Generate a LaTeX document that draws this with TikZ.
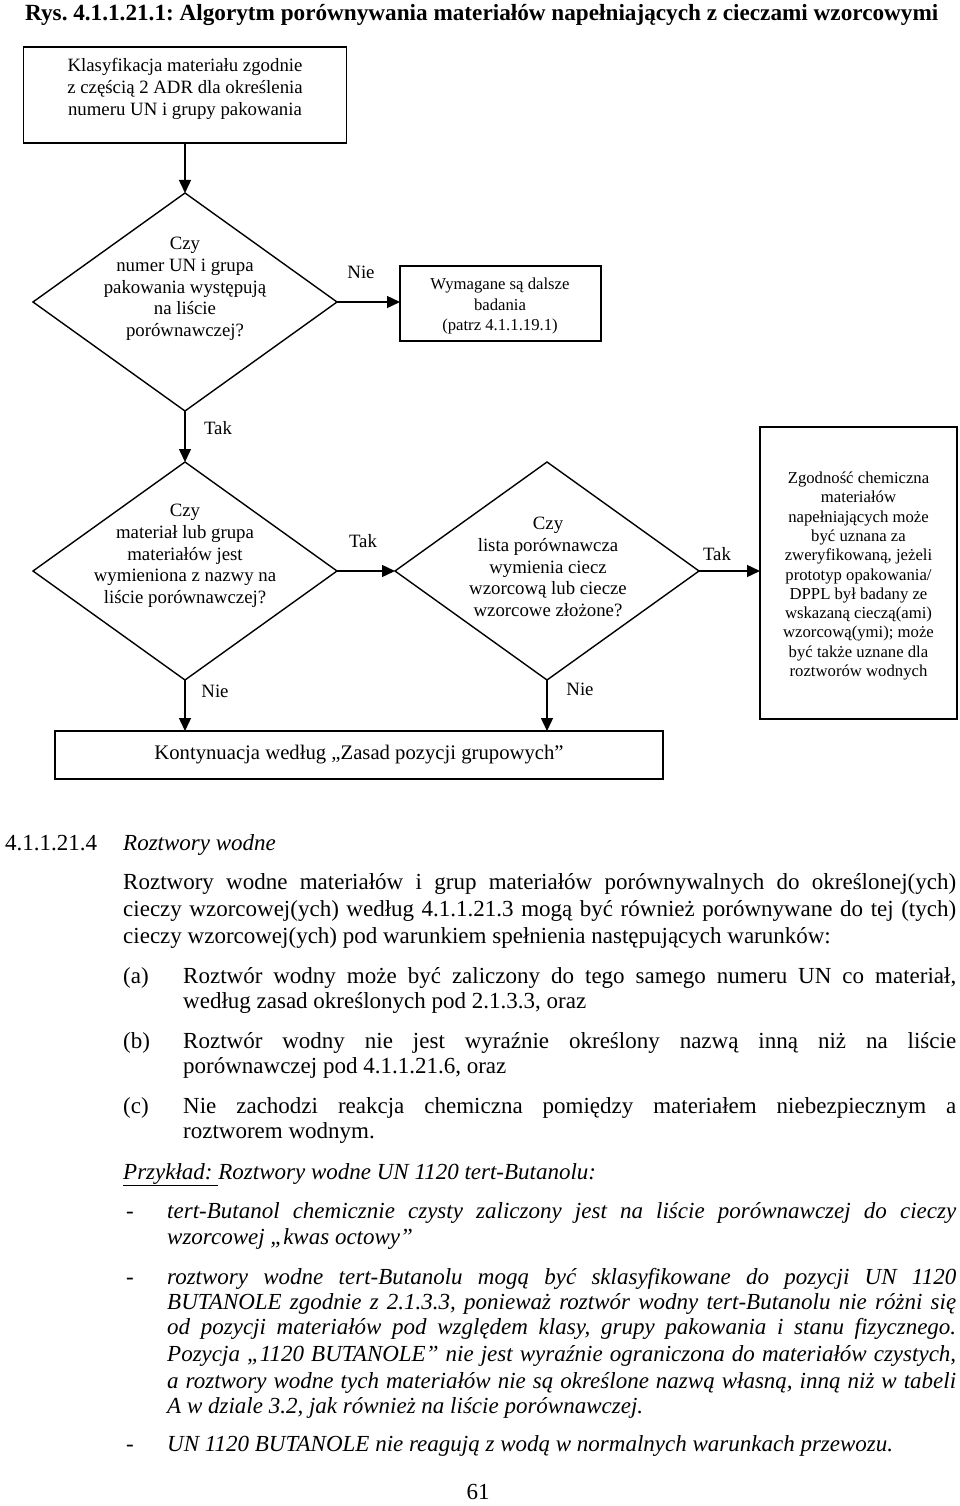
\documentclass[tikz,border=0pt]{standalone}
\usepackage{fontspec}
\setmainfont{Liberation Serif}
\usetikzlibrary{shapes.geometric,arrows.meta}
\frenchspacing
\begin{document}
\begin{tikzpicture}[x=1pt,y=-1pt,
  box/.style={draw, line width=1.4pt, inner sep=0pt, outer sep=0pt},
  dia/.style={draw, diamond, line width=1.4pt, inner sep=0pt, outer sep=0pt, minimum width=304pt, minimum height=218pt},
  ftxt/.style={align=center, font=\fontsize{18.8}{21.7}\selectfont, inner sep=0pt},
  stxt/.style={align=center, font=\fontsize{16.7}{19.3}\selectfont, inner sep=0pt},
  lbl/.style={font=\fontsize{18.8}{21.7}\selectfont, inner sep=0pt},
  arr/.style={line width=1.4pt, -{Triangle[length=13pt,width=12pt]}},
  body/.style={anchor=base west, inner sep=0pt, font=\fontsize{23}{27}\selectfont},
  ibody/.style={body, font=\fontsize{23}{27}\selectfont\itshape},
  ]
\useasboundingbox (0,0) rectangle (960,1506);
% title
\node[anchor=base west, inner sep=0pt, font=\bfseries\fontsize{23.2}{27}\selectfont] (title) at (25,21) {Rys. 4.1.1.21.1: Algorytm porównywania materiałów napełniających z cieczami wzorcowymi};
% flowchart
\node[box, minimum width=323pt, minimum height=96pt] (b1) at (185,95) {};
\node[ftxt] (b1t) at (185,89) {Klasyfikacja materiału zgodnie\\z częścią 2 ADR dla określenia\\numeru UN i grupy pakowania};
\node[dia] (d1) at (185,302) {};
\node[ftxt] (d1t) at (185,289) {Czy\\numer UN i grupa\\pakowania występują\\na liście\\porównawczej?};
\node[box, minimum width=201pt, minimum height=75pt] (wb) at (500.5,303.5) {};
\node[stxt, font=\fontsize{16.7}{20.5}\selectfont] (wbt) at (500,306) {Wymagane są dalsze\\badania\\(patrz 4.1.1.19.1)};
\node[dia] (d2) at (185,571) {};
\node[ftxt] (d2t) at (185,556) {Czy\\materiał lub grupa\\materiałów jest\\wymieniona z nazwy na\\liście porównawczej?};
\node[dia] (d3) at (547,571) {};
\node[ftxt] (d3t) at (548,567) {Czy\\lista porównawcza\\wymienia ciecz\\wzorcową lub ciecze\\wzorcowe złożone?};
\node[box, minimum width=197pt, minimum height=292pt] (rb) at (858.5,573) {};
\node[stxt] (rbt) at (858.5,576) {Zgodność chemiczna\\materiałów\\napełniających może\\być uznana za\\zweryfikowaną, jeżeli\\prototyp opakowania/\\DPPL był badany ze\\wskazaną cieczą(ami)\\wzorcową(ymi); może\\być także uznane dla\\roztworów wodnych};
\node[box, minimum width=608pt, minimum height=48pt, font=\fontsize{20.7}{24}\selectfont] (k) at (359,755) {Kontynuacja według „Zasad pozycji grupowych”};
% connectors
\draw[arr] (b1.south) -- (d1.north);
\draw[arr] (d1.east) -- (d1.east -| wb.west);
\draw[arr] (d1.south) -- (d2.north);
\draw[arr] (d2.east) -- (d3.west);
\draw[arr] (d3.east) -- (d3.east -| rb.west);
\draw[arr] (d2.south) -- (d2.south |- k.north);
\draw[arr] (d3.south) -- (d3.south |- k.north);
% labels
\node[lbl] (l1) at (361,272) {Nie};
\node[lbl] (l2) at (218,428) {Tak};
\node[lbl] (l3) at (363,541) {Tak};
\node[lbl] (l4) at (717,554) {Tak};
\node[lbl] (l5) at (215,691) {Nie};
\node[lbl] (l6) at (580,689) {Nie};
% body text
\node[body] (h1) at (5,850) {4.1.1.21.4};
\node[ibody] (h2) at (123,850) {Roztwory wodne};
\node[body] (p1) at (123,889) {\makebox[833pt][s]{Roztwory wodne materiałów i grup materiałów porównywalnych do określonej(ych)}};
\node[body] (p2) at (123,916) {\makebox[833pt][s]{cieczy wzorcowej(ych) według 4.1.1.21.3 mogą być również porównywane do tej (tych)}};
\node[body] (p3) at (123,943) {cieczy wzorcowej(ych) pod warunkiem spełnienia następujących warunków:};
\node[body] (ia) at (123,983) {(a)};
\node[body] (a1) at (183,983) {\makebox[773pt][s]{Roztwór wodny może być zaliczony do tego samego numeru UN co materiał,}};
\node[body] (a2) at (183,1008) {według zasad określonych pod 2.1.3.3, oraz};
\node[body] (ib) at (123,1048) {(b)};
\node[body] (b1l) at (183,1048) {\makebox[773pt][s]{Roztwór wodny nie jest wyraźnie określony nazwą inną niż na liście}};
\node[body] (b2l) at (183,1073) {porównawczej pod 4.1.1.21.6, oraz};
\node[body] (ic) at (123,1113) {(c)};
\node[body] (c1) at (183,1113) {\makebox[773pt][s]{Nie zachodzi reakcja chemiczna pomiędzy materiałem niebezpiecznym a}};
\node[body] (c2) at (183,1138) {roztworem wodnym.};
\node[ibody] (ex) at (123,1179) {\underline{Przykład: }Roztwory wodne UN 1120 tert-Butanolu:};
\node[body] (m1) at (126,1218) {-};
\node[ibody] (e1) at (167,1218) {\makebox[789pt][s]{tert-Butanol chemicznie czysty zaliczony jest na liście porównawczej do cieczy}};
\node[ibody] (e2) at (167,1244) {wzorcowej „kwas octowy”};
\node[body] (m2) at (126,1284) {-};
\node[ibody] (f1) at (167,1284) {\makebox[789pt][s]{roztwory wodne tert-Butanolu mogą być sklasyfikowane do pozycji UN 1120}};
\node[ibody] (f2) at (167,1309) {\makebox[789pt][s]{BUTANOLE zgodnie z 2.1.3.3, ponieważ roztwór wodny tert-Butanolu nie różni się}};
\node[ibody] (f3) at (167,1334) {\makebox[789pt][s]{od pozycji materiałów pod względem klasy, grupy pakowania i stanu fizycznego.}};
\node[ibody] (f4) at (167,1361) {\makebox[789pt][s]{Pozycja „1120 BUTANOLE” nie jest wyraźnie ograniczona do materiałów czystych,}};
\node[ibody] (f5) at (167,1388) {\makebox[789pt][s]{a roztwory wodne tych materiałów nie są określone nazwą własną, inną niż w tabeli}};
\node[ibody] (f6) at (167,1413) {A w dziale 3.2, jak również na liście porównawczej.};
\node[body] (m3) at (126,1451) {-};
\node[ibody] (g1) at (167,1451) {UN 1120 BUTANOLE nie reagują z wodą w normalnych warunkach przewozu.};
\node[body, anchor=base] (pg) at (478,1499) {61};
\end{tikzpicture}
\end{document}
